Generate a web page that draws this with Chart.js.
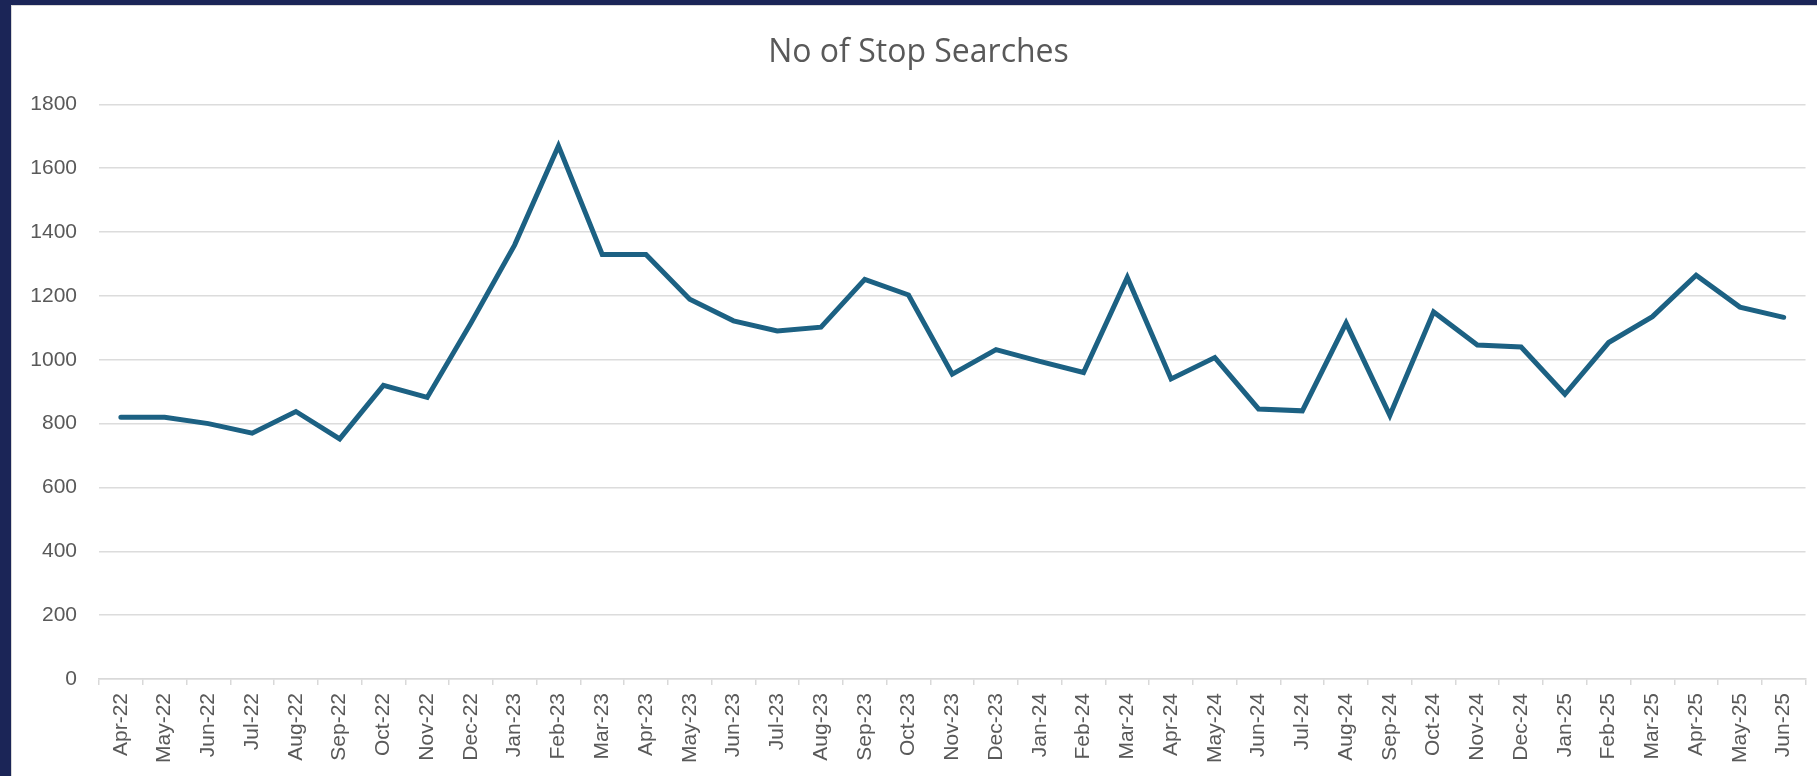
<!DOCTYPE html>
<html>
<head>
<meta charset="utf-8">
<script src="https://cdn.jsdelivr.net/npm/chart.js@4.4.1/dist/chart.umd.min.js"></script>
<style>
  html, body { margin: 0; padding: 0; background: #1b2557; width: 1817px; height: 776px; overflow: hidden; }
  #wrap { position: absolute; left: 11px; top: 5px; width: 1806px; height: 771px; background: #ffffff; box-shadow: inset 1px 1px 0 #d8d8d8; }
  canvas { display: block; }
</style>
</head>
<body>
<div id="wrap"><canvas id="c" width="1806" height="771"></canvas></div>
<script>
const chartTitle = "No of Stop Searches";
const months = ["Apr-22","May-22","Jun-22","Jul-22","Aug-22","Sep-22","Oct-22","Nov-22","Dec-22",
  "Jan-23","Feb-23","Mar-23","Apr-23","May-23","Jun-23","Jul-23","Aug-23","Sep-23","Oct-23","Nov-23","Dec-23",
  "Jan-24","Feb-24","Mar-24","Apr-24","May-24","Jun-24","Jul-24","Aug-24","Sep-24","Oct-24","Nov-24","Dec-24",
  "Jan-25","Feb-25","Mar-25","Apr-25","May-25","Jun-25"];
const stopSearches = [820, 820, 800, 770, 838, 752, 920, 882, 1115,
  1360, 1670, 1330, 1330, 1190, 1122, 1090, 1102, 1252, 1203, 955, 1032,
  995, 960, 1258, 940, 1007, 846, 840, 1115, 826, 1150, 1046, 1040,
  892, 1054, 1135, 1265, 1165, 1133];
const yTicksMin = 0, yTicksMax = 1800, yTickStep = 200;

const grey = "#595959";
new Chart(document.getElementById("c"), {
  type: "line",
  data: {
    labels: months,
    datasets: [{
      label: chartTitle,
      data: stopSearches,
      borderColor: "#1c6183",
      backgroundColor: "#1c6183",
      borderWidth: 5,
      pointRadius: 0,
      tension: 0,
      borderCapStyle: "round",
      borderJoinStyle: "miter",
      fill: false
    }]
  },
  options: {
    responsive: false,
    animation: false,
    layout: { padding: { left: 19, right: 10, top: 0, bottom: 0 } },
    plugins: {
      legend: { display: false },
      tooltip: { enabled: false },
      title: {
        display: true,
        text: chartTitle,
        color: grey,
        font: { family: "'Open Sans', sans-serif", size: 32, weight: "normal" },
        padding: { top: 29, bottom: 32 }
      }
    },
    scales: {
      x: {
        offset: true,
        grid: { offset: true, drawOnChartArea: false, drawTicks: true, tickLength: 6, color: "#d9d9d9", lineWidth: 1.5 },
        border: { display: true, color: "#d9d9d9", width: 1.5 },
        ticks: {
          autoSkip: false, maxRotation: 90, minRotation: 90, padding: 8,
          color: grey, font: { family: "'Liberation Sans', Arial, sans-serif", size: 21 }
        },
        afterFit: (s) => { s.height = 97; }
      },
      y: {
        min: yTicksMin, max: yTicksMax,
        grid: { color: "#dcdcdc", lineWidth: 1.5, drawTicks: false },
        border: { display: false },
        ticks: {
          stepSize: yTickStep, padding: 22,
          callback: (v) => String(v),
          color: grey, font: { family: "'Liberation Sans', Arial, sans-serif", size: 21 }
        },
        afterFit: (s) => { s.width = 69; }
      }
    }
  }
});
</script>
</body>
</html>
